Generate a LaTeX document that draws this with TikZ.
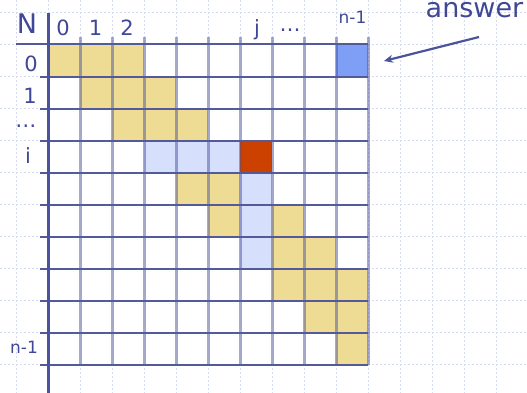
\documentclass[tikz,border=0pt]{standalone}
\usepackage{fontspec}
\setmainfont{DejaVu Sans}
\usepackage{tikz}
\usetikzlibrary{arrows.meta}

\definecolor{txtblue}{HTML}{3F4796}
\definecolor{axisblue}{HTML}{4B539C}
\definecolor{rowline}{HTML}{525A9A}
\definecolor{bggrid}{HTML}{D5DBF3}
\definecolor{cellyellow}{HTML}{EEDC94}
\definecolor{celllight}{HTML}{D6E0FC}
\definecolor{cellred}{HTML}{CC4100}
\definecolor{cellblue}{HTML}{7F9EF5}

\begin{document}
\begin{tikzpicture}[
    x=1pt, y=-1pt,
    every node/.style={text=txtblue, inner sep=0pt, anchor=base},
    biglabel/.style={font=\fontsize{21}{25}\selectfont},
    smalllabel/.style={font=\fontsize{17}{20}\selectfont},
    huge label/.style={font=\fontsize{27}{32}\selectfont},
    bgline/.style={bggrid, line width=0.8pt, dash pattern=on 2pt off 2pt},
    vline/.style={draw=axisblue, draw opacity=0.5, line width=3pt},
    hline/.style={rowline, line width=2pt}
]
    \useasboundingbox (0,0) rectangle (527,393);

    % Background grid
    \foreach \gx in {16,48,...,496}
        \draw[bgline] (\gx,0) -- (\gx,393);
    \foreach \gy in {12.5,44.5,...,364.5}
        \draw[bgline] (0,\gy) -- (527,\gy);

    % Table cells
    \fill[white] (48,44.5) rectangle (368,365);
    \foreach \r/\c in {0/0,0/1,0/2,1/1,1/2,1/3,2/2,2/3,2/4,4/4,4/5,5/5,5/7,
                       6/7,6/8,7/7,7/8,7/9,8/8,8/9,9/9}
        \fill[cellyellow] ({48+32*\c},{44.5+32.05*\r}) rectangle ++(32,32.05);
    \foreach \r/\c in {3/3,3/4,3/5,4/6,5/6,6/6}
        \fill[celllight] ({48+32*\c},{44.5+32.05*\r}) rectangle ++(32,32.05);
    \fill[cellred] ({48+32*6},{44.5+32.05*3}) rectangle ++(32,32.05);
    \fill[cellblue] ({48+32*9},44.5) rectangle ++(32,32.05);

    % Grid lines
    \foreach \c in {1,...,10}
        \draw[vline] ({48+32*\c},37) -- ({48+32*\c},365);
    \draw[hline] (16,44.5) -- (368,44.5);
    \foreach \r in {1,...,10}
        \draw[hline] (40,{44.5+32.05*\r}) -- (368,{44.5+32.05*\r});
    \draw[axisblue, line width=3pt] (48,13) -- (48,393);

    % Column labels
    \node[huge label] (nlab) at (27,33.3) {N};
    \node[biglabel] (col0) at (63,35.5) {0};
    \node[biglabel] (col1) at (95.5,35.5) {1};
    \node[biglabel] (col2) at (127,35.5) {2};
    \node[biglabel] (colj) at (257,35.5) {j};
    \node[biglabel] (coldots) at (290,32) {\dots};
    \node[smalllabel] (colnm) at (352.5,24) {n-1};

    % Row labels
    \node[biglabel] (row0) at (31,72) {0};
    \node[biglabel] (row1) at (30,103) {1};
    \node[biglabel] (rowdots) at (26,127.5) {\dots};
    \node[biglabel] (rowi) at (28,163) {i};
    \node[smalllabel] (rownm) at (24,353) {n-1};

    % Answer
    \node[huge label] (answer) at (474.5,17.5) {answer};
    \coordinate (tail) at (479,37);
    \coordinate (tip) at (384,61);
    \draw[axisblue, line width=2.2pt, -{Stealth[length=9pt,width=8pt]}] (tail) -- (tip);
\end{tikzpicture}
\end{document}
